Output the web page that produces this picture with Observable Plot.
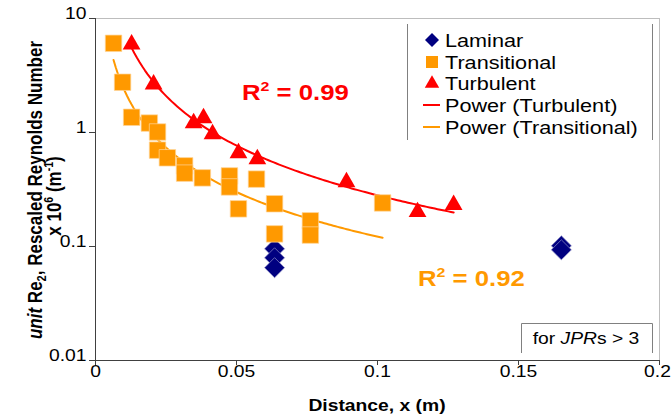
<!DOCTYPE html>
<html><head><meta charset="utf-8">
<script src="https://cdn.jsdelivr.net/npm/d3@7"></script>
<script src="https://cdn.jsdelivr.net/npm/@observablehq/plot@0.6"></script>
<style>body{margin:0;background:#fff} svg{display:block}</style>
</head><body><div id="chart"></div>
<script>
// ---- data ----
const xTicks = [0, 0.05, 0.1, 0.15, 0.2];
const xTickLabels = ["0", "0.05", "0.1", "0.15", "0.2"];
const yTicks = [0.01, 0.1, 1, 10];
const yTickLabels = ["0.01", "0.1", "1", "10"];

const laminarX = [0.0635, 0.0635, 0.0635, 0.1652, 0.1652];
const laminarY = [0.0955, 0.0796, 0.0652, 0.1014, 0.0935];

const transitionalX = [0.0064, 0.0096, 0.0128, 0.0191, 0.0220, 0.0220, 0.0255, 0.0316, 0.0316, 0.0379,
                       0.0475, 0.0475, 0.0571, 0.0507, 0.0635, 0.0762, 0.0762, 0.0635, 0.1018];
const transitionalY = [6.06, 2.76, 1.36, 1.21, 1.01, 0.70, 0.60, 0.51, 0.44, 0.40,
                       0.416, 0.333, 0.39, 0.214, 0.237, 0.168, 0.126, 0.129, 0.241];

const turbulentX = [0.0128, 0.0206, 0.0348, 0.0383, 0.0415, 0.0507, 0.0574, 0.0890, 0.1142, 0.1270];
const turbulentY = [5.93, 2.65, 1.21, 1.34, 0.97, 0.66, 0.585, 0.368, 0.201, 0.232];

const legendNames = ["Laminar", "Transitional", "Turbulent", "Power (Turbulent)", "Power (Transitional)"];
const r2Turbulent = "0.99";
const r2Transitional = "0.92";

// ---- helpers ----
const K = 1.17; // horizontal stretch of the original rendering
const FONT = "'Liberation Sans', Arial, sans-serif";
const navy = "#000080", orange = "#ff9900", red = "#ff0000";

const rows = (xs, ys) => xs.map((x, i) => ({x, y: ys[i]}));
function powerFitCurve(xs, ys) {
  const lx = xs.map(Math.log), ly = ys.map(Math.log);
  const mx = d3.mean(lx), my = d3.mean(ly);
  let sxy = 0, sxx = 0;
  lx.forEach((v, i) => { sxy += (v - mx) * (ly[i] - my); sxx += (v - mx) ** 2; });
  const b = sxy / sxx, a = Math.exp(my - b * mx);
  const [x0, x1] = d3.extent(xs);
  return d3.range(0, 121).map(i => { const x = x0 + (x1 - x0) * i / 120; return {x, y: a * Math.pow(x, b)}; });
}
const diamond = {draw(ctx, size) { const h = Math.sqrt(size / 2); ctx.moveTo(0, -h); ctx.lineTo(h, 0); ctx.lineTo(0, h); ctx.lineTo(-h, 0); ctx.closePath(); }};

const lam = rows(laminarX, laminarY);
const trans = rows(transitionalX, transitionalY);
const turb = rows(turbulentX, turbulentY);

const plot = Plot.plot({
  width: 671, height: 420,
  marginLeft: 95, marginRight: 12, marginTop: 18, marginBottom: 60,
  style: {fontFamily: FONT, fontSize: "16.5px", color: "#000", background: "#fff"},
  x: {domain: [0, 0.2]},
  y: {type: "log", domain: [0.01, 10]},
  marks: [
    Plot.ruleY([10], {stroke: "#bdbdbd"}),
    Plot.ruleX([0.2], {stroke: "#bdbdbd"}),
    Plot.line(powerFitCurve(turbulentX, turbulentY), {x: "x", y: "y", stroke: red, strokeWidth: 2}),
    Plot.line(powerFitCurve(transitionalX, transitionalY), {x: "x", y: "y", stroke: orange, strokeWidth: 2}),
    Plot.dot(lam, {x: "x", y: "y", symbol: diamond, r: 8, fill: navy, stroke: "#9090c8", strokeWidth: 0.7}),
    Plot.dot(trans, {x: "x", y: "y", symbol: "square", r: 9.3, fill: orange, stroke: "#ffd699", strokeWidth: 0.7}),
    Plot.dot(turb, {x: "x", y: "y", symbol: "triangle", r: 6.6, fill: red}),
    Plot.axisX({ticks: xTicks, tickFormat: d => xTickLabels[xTicks.indexOf(d)], tickSize: 5, tickPadding: 11, label: null, stroke: "#404040"}),
    Plot.axisY({ticks: yTicks, tickFormat: d => yTickLabels[yTicks.indexOf(d)], tickSize: 6, tickPadding: 3, label: null, stroke: "#404040"}),
    Plot.ruleX([0], {stroke: "#404040"}),
    Plot.ruleY([0.01], {stroke: "#404040"})
  ]
});

// stretch Plot's own texts horizontally about their anchors
const lastX = xTickLabels[xTickLabels.length - 1];
plot.querySelectorAll("text").forEach(t => {
  let tr = t.getAttribute("transform") || "";
  if (t.hasAttribute("x") || t.hasAttribute("y")) {
    const x = +t.getAttribute("x") || 0, y = +t.getAttribute("y") || 0;
    t.removeAttribute("x"); t.removeAttribute("y");
    tr += ` translate(${x},${y})`;
  }
  // keep the last x tick label inside the picture
  if (t.textContent === lastX) tr += " translate(-2,0)";
  t.setAttribute("transform", tr + ` scale(${K},1)`);
});

const svg = d3.select(plot);
function txt(x, y, parts, {size = 16.5, weight = "normal", fill = "#000", anchor = "start", rotate = 0} = {}) {
  const t = svg.append("text")
    .attr("transform", `translate(${x},${y}) scale(${K},1)` + (rotate ? ` rotate(${rotate})` : ""))
    .attr("text-anchor", anchor).attr("font-family", FONT).attr("font-size", size)
    .attr("font-weight", weight).attr("fill", fill);
  let shift = 0;
  for (const p of parts) {
    const s = t.append("tspan").text(p.t);
    let target = 0;
    if (p.sup) { s.attr("font-size", size * 0.62); target = -0.42 * size; }
    if (p.sub) { s.attr("font-size", size * 0.65); target = 0.22 * size; }
    if (p.italic) s.attr("font-style", "italic");
    if (target !== shift) { s.attr("dy", target - shift); shift = target; }
  }
  return t;
}

// legend box (side borders only, as in the reference)
svg.append("line").attr("x1", 407.5).attr("x2", 407.5).attr("y1", 24).attr("y2", 140).attr("stroke", "#808080");
svg.append("line").attr("x1", 652.5).attr("x2", 652.5).attr("y1", 24).attr("y2", 140).attr("stroke", "#808080");
const ly = [40, 62, 83.5, 105, 127], lx = 432;
svg.append("path").attr("d", d3.symbol(diamond, 98)()).attr("transform", `translate(${lx},${ly[0]})`).attr("fill", navy);
svg.append("path").attr("d", d3.symbol(d3.symbolSquare, 144)()).attr("transform", `translate(${lx},${ly[1]})`).attr("fill", orange);
svg.append("path").attr("d", d3.symbol(d3.symbolTriangle, 90)()).attr("transform", `translate(${lx},${ly[2]})`).attr("fill", red);
svg.append("line").attr("x1", 423).attr("x2", 440).attr("y1", ly[3]).attr("y2", ly[3]).attr("stroke", red).attr("stroke-width", 2);
svg.append("line").attr("x1", 423).attr("x2", 440).attr("y1", ly[4]).attr("y2", ly[4]).attr("stroke", orange).attr("stroke-width", 2);
legendNames.forEach((n, i) => txt(445, ly[i] + 6.6, [{t: n}], {size: 18.5}));

// R² annotations
txt(242, 100, [{t: "R"}, {t: "2", sup: true}, {t: " = " + r2Turbulent}], {size: 22, weight: "bold", fill: red});
txt(418, 286, [{t: "R"}, {t: "2", sup: true}, {t: " = " + r2Transitional}], {size: 22, weight: "bold", fill: orange});

// "for JPRs > 3" box
svg.append("path").attr("d", "M521.5,353V323.5H652.5V353").attr("fill", "none").attr("stroke", "#808080");
txt(586, 344, [{t: "for "}, {t: "JPR", italic: true}, {t: "s > 3"}], {size: 16.5, anchor: "middle"});

// axis titles
txt(377, 411, [{t: "Distance, x (m)"}], {size: 16.5, weight: "bold", anchor: "middle"});
txt(42, 190, [{t: "unit", italic: true}, {t: " Re"}, {t: "2", sub: true}, {t: ", Rescaled Reynolds Number"}], {size: 17, weight: "bold", anchor: "middle", rotate: -90});
txt(61, 196, [{t: "x 10"}, {t: "6", sup: true}, {t: " (m"}, {t: "-1", sup: true}, {t: ")"}], {size: 17, weight: "bold", anchor: "middle", rotate: -90});

document.getElementById("chart").appendChild(plot);
</script>
</body></html>
